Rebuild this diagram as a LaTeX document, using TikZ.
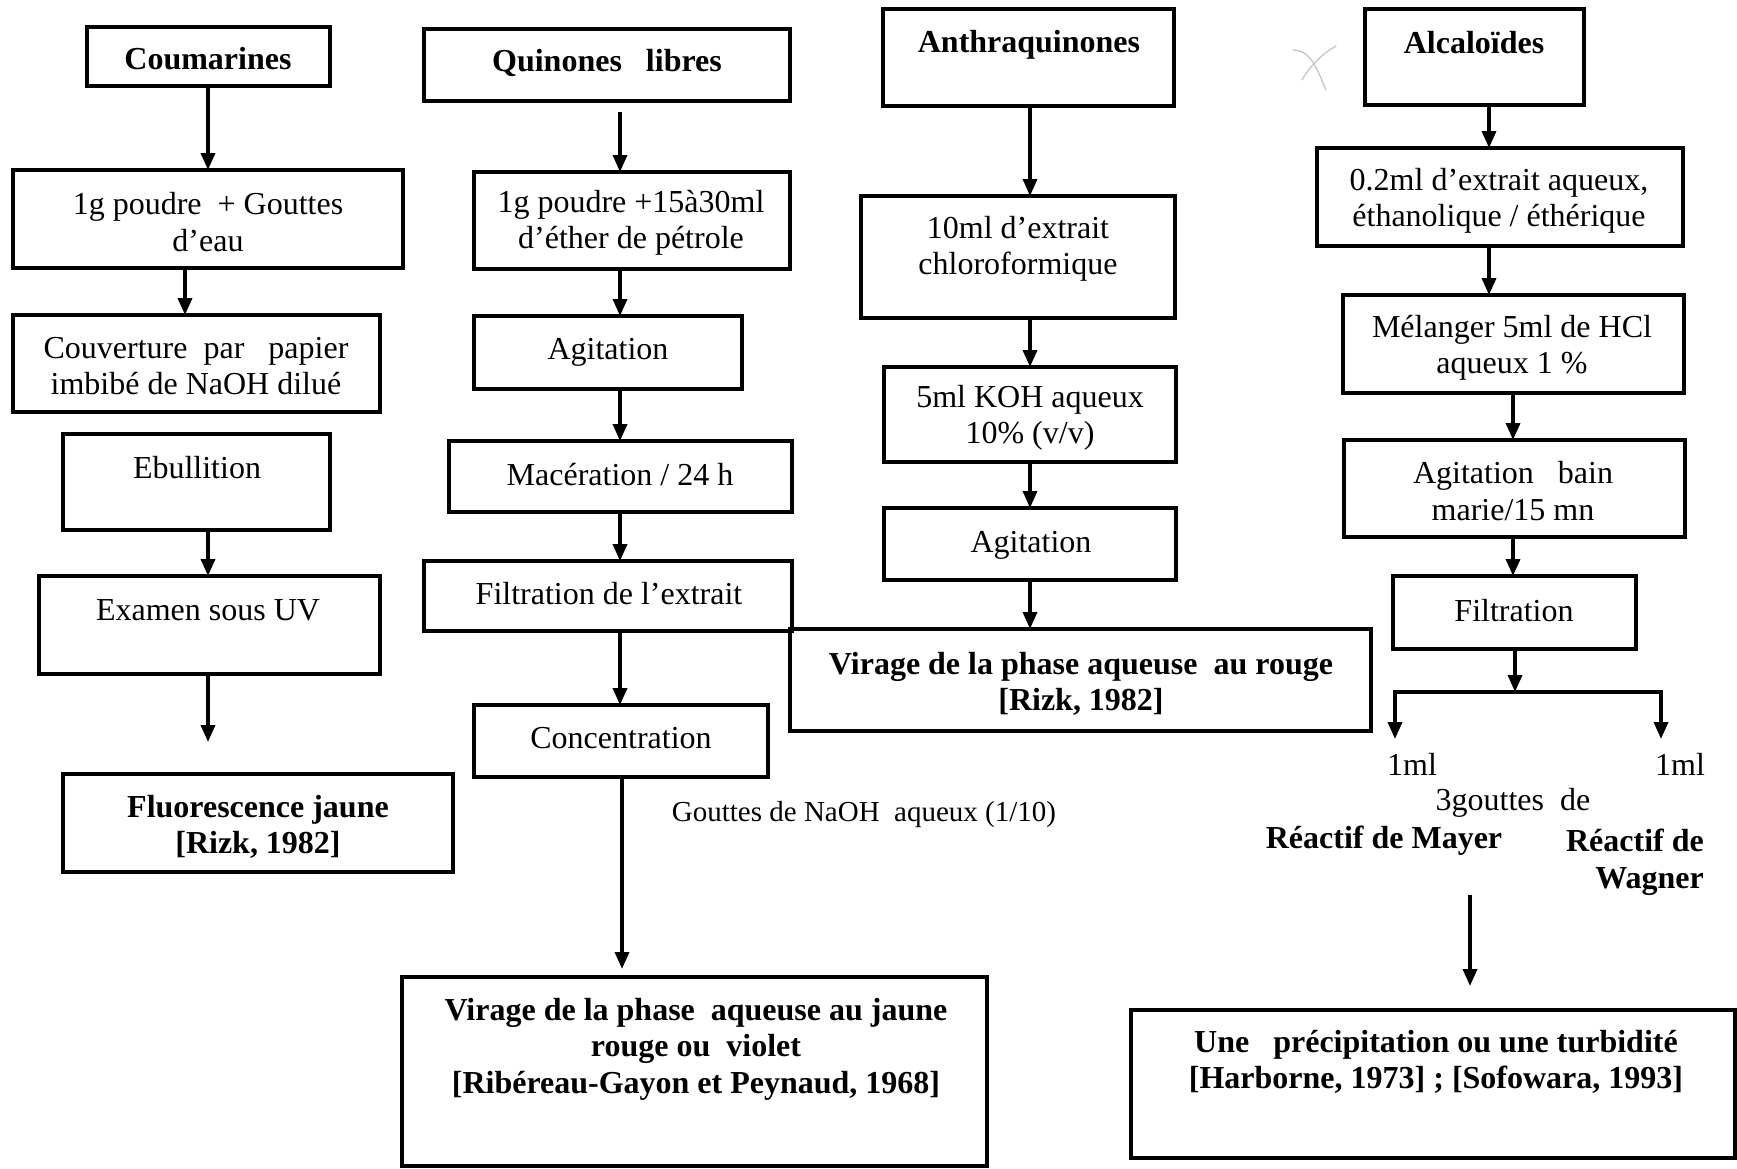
\documentclass[tikz,border=0pt]{standalone}
\usepackage{fontspec}
\setmainfont{Liberation Serif}
\usetikzlibrary{arrows.meta,fit}
\begin{document}
\begin{tikzpicture}[x=1pt,y=-1pt,
  box/.style={draw, line width=4pt, inner sep=0pt, outer sep=0pt},
  txt/.style={inner sep=0pt, align=center, font=\fontsize{32}{36.5}\selectfont},
  btxt/.style={inner sep=0pt, align=center, font=\fontsize{32}{36.5}\selectfont\bfseries},
  stxt/.style={inner sep=0pt, align=center, font=\fontsize{29}{34}\selectfont},
  arr/.style={line width=3.5pt, -{Triangle[length=17pt,width=14pt]}},
  ln/.style={line width=3.5pt}]
\useasboundingbox (0,0) rectangle (1737,1168);
\fill[white] (0,0) rectangle (1737,1168);

% ---------- Column 1 : Coumarines ----------
\node[box, fit={(87,27)(330,86)}] (c0) {};
\node[btxt] (c0t) at (208,59) {Coumarines};
\node[box, fit={(13,170)(403,268)}] (c1) {};
\node[txt] (c1t) at (208,222) {1g poudre~~+ Gouttes\\d’eau};
\node[box, fit={(13,315)(380,412)}] (c2) {};
\node[txt] (c2t) at (196,366) {Couverture~~par~~~papier\\imbibé de NaOH dilué};
\node[box, fit={(63,434)(330,530)}] (c3) {};
\node[txt] (c3t) at (197,468) {Ebullition};
\node[box, fit={(39,576)(380,674)}] (c4) {};
\node[txt] (c4t) at (208,610) {Examen sous UV};
\node[box, fit={(63,774)(453,872)}] (c5) {};
\node[btxt] (c5t) at (258,827) {Fluorescence jaune\\{}[Rizk, 1982]};

\coordinate (xA) at (208,0);
\coordinate (xB) at (185,0);
\coordinate (e1) at (208,742);
\draw[arr] (c0.south -| xA) -- (c1.north -| xA);
\draw[arr] (c1.south -| xB) -- (c2.north -| xB);
\draw[arr] (c3.south -| xA) -- (c4.north -| xA);
\draw[arr] (c4.south -| xA) -- (e1);

% ---------- Column 2 : Quinones libres ----------
\node[box, fit={(424,29)(790,101)}] (q0) {};
\node[btxt] (q0t) at (607,63) {Quinones~~~libres};
\node[box, fit={(474,172)(790,269)}] (q1) {};
\node[txt] (q1t) at (631,223) {1g poudre +15à30ml\\d’éther de pétrole};
\node[box, fit={(474,316)(742,389)}] (q2) {};
\node[txt] (q2t) at (608,352) {Agitation};
\node[box, fit={(449,441)(792,512)}] (q3) {};
\node[txt] (q3t) at (620,475) {Macération / 24 h};
\node[box, fit={(424,561)(792,631)}] (q4) {};
\node[txt] (q4t) at (609,594) {Filtration de l’extrait};
\node[box, fit={(474,705)(768,777)}] (q5) {};
\node[txt] (q5t) at (621,738) {Concentration};
\node[stxt] (q5l) at (864,815) {Gouttes de NaOH~~aqueux (1/10)};
\node[box, fit={(402,977)(987,1166)}] (q6) {};
\node[btxt] (q6t) at (696,1049) {Virage de la phase~~aqueuse au jaune\\rouge ou~~violet\\{}[Ribéreau-Gayon et Peynaud, 1968]};

\coordinate (xQ) at (620,0);
\coordinate (xQb) at (622,0);
\coordinate (s1) at (620,112);
\coordinate (e2) at (622,969);
\draw[arr] (s1) -- (q1.north -| xQ);
\draw[arr] (q1.south -| xQ) -- (q2.north -| xQ);
\draw[arr] (q2.south -| xQ) -- (q3.north -| xQ);
\draw[arr] (q3.south -| xQ) -- (q4.north -| xQ);
\draw[arr] (q4.south -| xQ) -- (q5.north -| xQ);
\draw[arr] (q5.south -| xQb) -- (e2);

% ---------- Column 3 : Anthraquinones ----------
\node[box, fit={(883,9)(1174,106)}] (a0) {};
\node[btxt] (a0t) at (1029,45) {Anthraquinones};
\node[box, fit={(861,196)(1175,318)}] (a1) {};
\node[txt] (a1t) at (1018,249) {10ml d’extrait\\chloroformique};
\node[box, fit={(884,367)(1176,462)}] (a2) {};
\node[txt] (a2t) at (1030,418) {5ml KOH aqueux\\10\% (v/v)};
\node[box, fit={(884,508)(1176,580)}] (a3) {};
\node[txt] (a3t) at (1031,545) {Agitation};
\node[box, fit={(790,629)(1371,731)}] (a4) {};
\node[btxt] (a4t) at (1081,684) {Virage de la phase aqueuse~~au rouge\\{}[Rizk, 1982]};

\coordinate (xC) at (1030,0);
\draw[arr] (a0.south -| xC) -- (a1.north -| xC);
\draw[arr] (a1.south -| xC) -- (a2.north -| xC);
\draw[arr] (a2.south -| xC) -- (a3.north -| xC);
\draw[arr] (a3.south -| xC) -- (a4.north -| xC);

% pencil mark
\draw[gray!45, line width=1.3pt, line cap=round] (1293,50) .. controls (1312,50) and (1318,72) .. (1326,90);
\draw[gray!45, line width=1.3pt, line cap=round] (1336,46) .. controls (1322,54) and (1310,66) .. (1302,80);

% ---------- Column 4 : Alcaloides ----------
\node[box, fit={(1365,9)(1584,105)}] (k0) {};
\node[btxt] (k0t) at (1474,43) {Alcaloïdes};
\node[box, fit={(1317,148)(1683,246)}] (k1) {};
\node[txt] (k1t) at (1499,201) {0.2ml d’extrait aqueux,\\éthanolique / éthérique};
\node[box, fit={(1343,295)(1684,393)}] (k2) {};
\node[txt] (k2t) at (1512,348) {Mélanger 5ml de HCl\\aqueux 1 \%};
\node[box, fit={(1344,440)(1685,537)}] (k3) {};
\node[txt] (k3t) at (1513,491) {Agitation~~~bain\\marie/15 mn};
\node[box, fit={(1393,576)(1636,649)}] (k4) {};
\node[txt] (k4t) at (1514,611) {Filtration};

\coordinate (xK1) at (1489,0);
\coordinate (xK2) at (1513,0);
\coordinate (xK3) at (1515,0);
\draw[arr] (k0.south -| xK1) -- (k1.north -| xK1);
\draw[arr] (k1.south -| xK1) -- (k2.north -| xK1);
\draw[arr] (k2.south -| xK2) -- (k3.north -| xK2);
\draw[arr] (k3.south -| xK2) -- (k4.north -| xK2);

\coordinate (j) at (1515,692);
\coordinate (el) at (1395,739);
\coordinate (er) at (1661,739);
\draw[arr] (k4.south -| xK3) -- (j);
\draw[arr] (j) -| (el);
\draw[arr] (j) -| (er);

\node[txt] (m1) at (1412,764) {1ml};
\node[txt] (m2) at (1680,764) {1ml};
\node[txt] (m3) at (1513,803) {3gouttes~~de};
\node[btxt] (m4) at (1384,841) {Réactif de Mayer};
\node[btxt, align=right, anchor=north east] (m5) at (1704,829) {Réactif de\\Wagner};

\coordinate (s4) at (1470,895);
\coordinate (e4) at (1470,986);
\draw[arr] (s4) -- (e4);

\node[box, fit={(1131,1010)(1735,1158)}] (k5) {};
\node[btxt] (k5t) at (1436,1062) {Une~~~précipitation ou une turbidité\\{}[Harborne, 1973] ; [Sofowara, 1993]};
\end{tikzpicture}
\end{document}
